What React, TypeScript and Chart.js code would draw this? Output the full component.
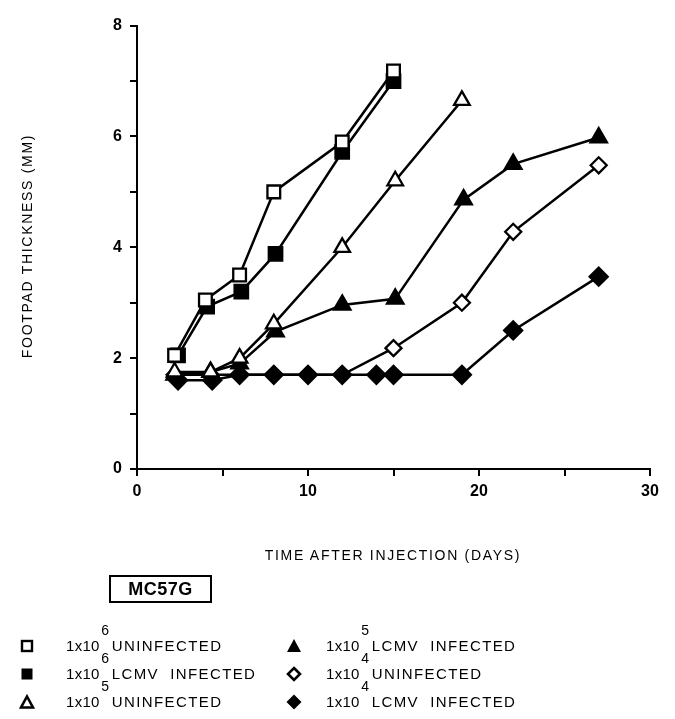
import React, { useEffect, useRef } from "react";
import { Chart, registerables } from "chart.js";

Chart.register(...registerables);

// ---- data (days after injection, footpad thickness in mm) ----
const days_uninf6 = [2.2, 4, 6, 8, 12, 15];
const mm_uninf6 = [2.05, 3.05, 3.5, 5.0, 5.9, 7.18];

const days_lcmv6 = [2.4, 4.1, 6.1, 8.1, 12, 15];
const mm_lcmv6 = [2.05, 2.93, 3.2, 3.88, 5.72, 7.0];

const days_uninf5 = [2.2, 4.3, 6, 8, 12, 15.1, 19];
const mm_uninf5 = [1.75, 1.75, 2.0, 2.62, 4.0, 5.2, 6.65];

const days_lcmv5 = [2.2, 4.3, 6, 8.1, 12, 15.1, 19.1, 22, 27];
const mm_lcmv5 = [1.7, 1.75, 1.9, 2.48, 2.96, 3.07, 4.86, 5.5, 5.98];

const days_uninf4 = [2.2, 4.3, 6, 8, 10, 12, 15, 19, 22, 27];
const mm_uninf4 = [1.7, 1.7, 1.7, 1.7, 1.7, 1.7, 2.18, 3.0, 4.28, 5.48];

const days_lcmv4 = [2.4, 4.4, 6, 8, 10, 12, 14, 15, 19, 22, 27];
const mm_lcmv4 = [1.6, 1.6, 1.7, 1.7, 1.7, 1.7, 1.7, 1.7, 1.7, 2.5, 3.47];

const xTickLabels = ["0", "10", "20", "30"];
const yTickLabels = ["0", "2", "4", "6", "8"];

const legendExponents = ["6", "6", "5", "5", "4", "4"];
const legendLabels = [
  "UNINFECTED",
  "LCMV  INFECTED",
  "UNINFECTED",
  "LCMV  INFECTED",
  "UNINFECTED",
  "LCMV  INFECTED",
];
const legendMarkers = ["openSquare", "filledSquare", "openTriangle", "filledTriangle", "openDiamond", "filledDiamond"];

const panelLabel = "MC57G";
const xTitle = "TIME AFTER INJECTION (DAYS)";
const yTitle = "FOOTPAD THICKNESS (MM)";

const FONT = '"Liberation Sans", Arial, Helvetica, sans-serif';

function pts(xs: number[], ys: number[]) {
  return xs.map((x, i) => ({ x, y: ys[i] }));
}

function Marker({ kind }: { kind: string }) {
  const s = 16;
  let shape: any = null;
  if (kind === "openSquare") shape = <rect x={3} y={3} width={10} height={10} fill="#fff" stroke="#000" strokeWidth={2.4} />;
  if (kind === "filledSquare") shape = <rect x={2.5} y={2.5} width={11} height={11} fill="#000" />;
  if (kind === "openTriangle") shape = <polygon points="8,2.5 14,13.5 2,13.5" fill="#fff" stroke="#000" strokeWidth={2.6} />;
  if (kind === "filledTriangle") shape = <polygon points="8,1 15,14 1,14" fill="#000" />;
  if (kind === "openDiamond") shape = <polygon points="8,2 14,8 8,14 2,8" fill="#fff" stroke="#000" strokeWidth={2.6} />;
  if (kind === "filledDiamond") shape = <polygon points="8,0.5 15.5,8 8,15.5 0.5,8" fill="#000" />;
  return (
    <svg width={s} height={s} viewBox="0 0 16 16" style={{ display: "block" }}>
      {shape}
    </svg>
  );
}

export default function App() {
  const canvasRef = useRef<HTMLCanvasElement | null>(null);

  useEffect(() => {
    if (!canvasRef.current) return;
    const base = {
      borderColor: "#000",
      borderWidth: 2.5,
      pointBorderColor: "#000",
      pointBorderWidth: 2.3,
      tension: 0,
      showLine: true,
    };
    const chart = new Chart(canvasRef.current, {
      type: "scatter",
      data: {
        datasets: [
          { ...base, label: "1x10^6 UNINFECTED", data: pts(days_uninf6, mm_uninf6), pointStyle: "rect", pointRadius: 9, pointBackgroundColor: "#fff", order: 0 },
          { ...base, label: "1x10^6 LCMV INFECTED", data: pts(days_lcmv6, mm_lcmv6), pointStyle: "rect", pointRadius: 9.5, pointBackgroundColor: "#000", order: 1 },
          { ...base, label: "1x10^5 UNINFECTED", data: pts(days_uninf5, mm_uninf5), pointStyle: "triangle", pointRadius: 9, pointBackgroundColor: "#fff", order: 2 },
          { ...base, label: "1x10^5 LCMV INFECTED", data: pts(days_lcmv5, mm_lcmv5), pointStyle: "triangle", pointRadius: 9.5, pointBackgroundColor: "#000", order: 3 },
          { ...base, label: "1x10^4 UNINFECTED", data: pts(days_uninf4, mm_uninf4), pointStyle: "rectRot", pointRadius: 8, pointBackgroundColor: "#fff", order: 5 },
          { ...base, label: "1x10^4 LCMV INFECTED", data: pts(days_lcmv4, mm_lcmv4), pointStyle: "rectRot", pointRadius: 9, pointBackgroundColor: "#000", order: 4 },
        ],
      },
      options: {
        responsive: false,
        animation: false,
        events: [],
        layout: { padding: { left: 0, right: 17, top: 13, bottom: 202 } },
        plugins: { legend: { display: false }, tooltip: { enabled: false }, title: { display: false } },
        scales: {
          x: {
            type: "linear",
            min: 0,
            max: 30,
            afterFit: (s: any) => {
              s.height = 40;
            },
            ticks: {
              stepSize: 5,
              autoSkip: false,
              maxRotation: 0,
              padding: 6,
              color: "#000",
              font: { family: FONT, size: 16, weight: "bold" },
              callback: (v: any) => (xTickLabels.includes(String(v)) ? String(v) : ""),
            },
            grid: { drawOnChartArea: false, drawTicks: true, tickLength: 7, color: "#000", lineWidth: 2 },
            border: { display: true, color: "#000", width: 2 },
          },
          y: {
            type: "linear",
            min: 0,
            max: 8,
            afterFit: (s: any) => {
              s.width = 129;
            },
            ticks: {
              stepSize: 1,
              autoSkip: false,
              padding: 8,
              color: "#000",
              font: { family: FONT, size: 16, weight: "bold" },
              callback: (v: any) => (yTickLabels.includes(String(v)) ? String(v) : ""),
            },
            grid: { drawOnChartArea: false, drawTicks: true, tickLength: 7, color: "#000", lineWidth: 2 },
            border: { display: true, color: "#000", width: 2 },
          },
        },
      },
    } as any);
    return () => chart.destroy();
  }, []);

  const colX = [
    { marker: 19, text: 58 },
    { marker: 286, text: 318 },
  ];
  const rowY = [638, 666, 694];

  return (
    <div style={{ position: "relative", width: 659, height: 703, fontFamily: FONT, color: "#000" }}>
      <canvas ref={canvasRef} width={659} height={703} style={{ position: "absolute", left: 0, top: 0 }} />
      <div
        style={{
          position: "absolute",
          left: 385,
          top: 540,
          transform: "translateX(-50%)",
          fontSize: 14,
          lineHeight: "14px",
          letterSpacing: "1.7px",
          whiteSpace: "nowrap",
        }}
      >
        {xTitle}
      </div>
      <div
        style={{
          position: "absolute",
          left: 19,
          top: 238,
          transform: "translate(-50%, -50%) rotate(-90deg)",
          fontSize: 14,
          lineHeight: "14px",
          letterSpacing: "1.7px",
          whiteSpace: "nowrap",
        }}
      >
        {yTitle}
      </div>
      <div
        style={{
          position: "absolute",
          left: 101,
          top: 567,
          width: 103,
          height: 28,
          border: "2px solid #000",
          boxSizing: "border-box",
          display: "flex",
          alignItems: "center",
          justifyContent: "center",
          fontWeight: "bold",
          fontSize: 18,
          letterSpacing: "0.5px",
        }}
      >
        {panelLabel}
      </div>
      {legendLabels.map((lab, i) => {
        const col = Math.floor(i / 3);
        const row = i % 3;
        const cy = rowY[row];
        return (
          <React.Fragment key={i}>
            <div style={{ position: "absolute", left: colX[col].marker - 8, top: cy - 8 }}>
              <Marker kind={legendMarkers[i]} />
            </div>
            <div
              style={{
                position: "absolute",
                left: colX[col].text,
                top: cy - 9,
                fontSize: 15,
                lineHeight: "18px",
                letterSpacing: "1.4px",
                whiteSpace: "pre",
              }}
            >
              <span style={{ letterSpacing: "0.3px" }}>1x10</span>
              <span style={{ position: "relative", top: -16, display: "inline-block", width: 12, textAlign: "center", fontSize: 14 }}>
                {legendExponents[i]}
              </span>
              <span>{lab}</span>
            </div>
          </React.Fragment>
        );
      })}
    </div>
  );
}
